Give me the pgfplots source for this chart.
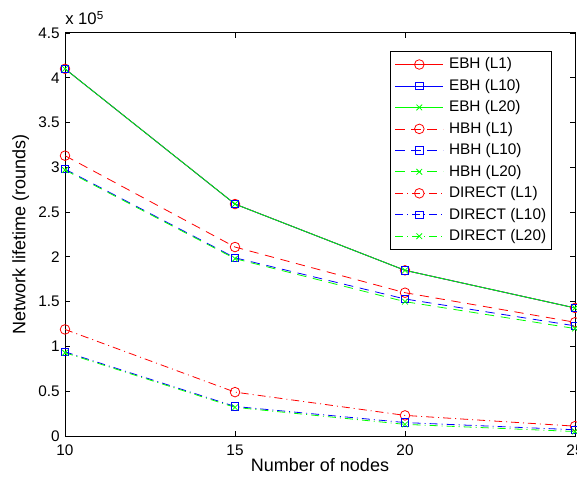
\documentclass[border=0pt]{standalone}
\usepackage{pgfplots}
\pgfplotsset{compat=1.18}
\usepackage{fontspec}
\setmainfont{Liberation Sans}
\definecolor{mred}{rgb}{1,0,0}
\definecolor{mblue}{rgb}{0,0,1}
\definecolor{mgreen}{rgb}{0,1,0}
\begin{document}
\begin{tikzpicture}
\begin{axis}[
  scale only axis, width=382.5pt, height=302.25pt,
  xmin=10, xmax=25, ymin=0, ymax=450000,
  xtick={10,15,20,25},
  ytick={0,50000,100000,150000,200000,250000,300000,350000,400000,450000},
  yticklabels={0,0.5,1,1.5,2,2.5,3,3.5,4,4.5},
  scaled y ticks=false,
  tick align=inside, tick pos=both, major tick length=3.75pt,
  /pgf/number format/assume math mode=true,
  tick label style={font=\fontsize{11.5}{13}\selectfont},
  xticklabel style={yshift=-3pt},
  yticklabel style={xshift=-0.5pt},
  label style={font=\fontsize{13.5}{16}\selectfont},
  xlabel={Number of nodes},
  ylabel={Network lifetime (rounds)},
  xlabel style={yshift=5pt},
  ylabel style={yshift=0pt},
  axis line style={line width=0.75pt},
  every tick/.style={black, line width=0.6pt},
  every axis plot/.append style={line width=0.6pt},
  legend cell align=left,
  legend image code/.code={\draw[#1,mark repeat=2,mark phase=2] plot coordinates {(0pt,0pt)(18pt,0pt)(36pt,0pt)};},
  legend style={at={(1,1)}, anchor=north east, xshift=-17.25pt, yshift=-13.5pt,
    font=\fontsize{11.5}{13}\selectfont, draw=black, line width=0.75pt,
    inner xsep=3pt, inner ysep=3pt, row sep=2.6pt,
    nodes={inner sep=1pt, text height=9pt, text depth=2.5pt},
    /tikz/every even column/.append style={column sep=2pt},
    /tikz/every odd column/.append style={column sep=3pt}},
]
\coordinate (SW) at (rel axis cs:0,0);
\coordinate (NE) at (rel axis cs:1,1);
% EBH
\addplot[mred, solid, mark=o, mark size=3.6pt, mark options={solid}] coordinates {(10,410000)(15,259000)(20,185000)(25,143000)};
\addlegendentry{EBH (L1)}
\addplot[mblue, solid, mark=square, mark size=2.8pt, mark options={solid}] coordinates {(10,410000)(15,259000)(20,185000)(25,143000)};
\addlegendentry{EBH (L10)}
\addplot[mgreen, solid, mark=x, mark size=3pt, mark options={solid}] coordinates {(10,410000)(15,259000)(20,185000)(25,143000)};
\addlegendentry{EBH (L20)}
% HBH
\addplot[mred, dash pattern=on 7pt off 5pt, mark=o, mark size=3.6pt, mark options={solid}] coordinates {(10,313000)(15,211000)(20,160000)(25,127000)};
\addlegendentry{HBH (L1)}
\addplot[mblue, dash pattern=on 7pt off 5pt, mark=square, mark size=2.8pt, mark options={solid}] coordinates {(10,298000)(15,199000)(20,153000)(25,123000)};
\addlegendentry{HBH (L10)}
\addplot[mgreen, dash pattern=on 7pt off 5pt, mark=x, mark size=3pt, mark options={solid}] coordinates {(10,297000)(15,198000)(20,150000)(25,120000)};
\addlegendentry{HBH (L20)}
% DIRECT
\addplot[mred, dash pattern=on 6pt off 3pt on 0.75pt off 3pt, mark=o, mark size=3.6pt, mark options={solid}] coordinates {(10,119000)(15,49000)(20,23000)(25,11000)};
\addlegendentry{DIRECT (L1)}
\addplot[mblue, dash pattern=on 6pt off 3pt on 0.75pt off 3pt, mark=square, mark size=2.8pt, mark options={solid}] coordinates {(10,94000)(15,33000)(20,15000)(25,7000)};
\addlegendentry{DIRECT (L10)}
\addplot[mgreen, dash pattern=on 6pt off 3pt on 0.75pt off 3pt, mark=x, mark size=3pt, mark options={solid}] coordinates {(10,93000)(15,32000)(20,13000)(25,5000)};
\addlegendentry{DIRECT (L20)}
\end{axis}
\node[anchor=base west, inner sep=0pt, font=\fontsize{12.5}{14}\selectfont] at ([yshift=6pt]NE -| SW) {x 10\textsuperscript{5}};
\pgfresetboundingbox
\path[use as bounding box] ([xshift=-48.75pt,yshift=-34.5pt]SW) rectangle ([xshift=1.5pt,yshift=24.75pt]NE);
\end{tikzpicture}
\end{document}
